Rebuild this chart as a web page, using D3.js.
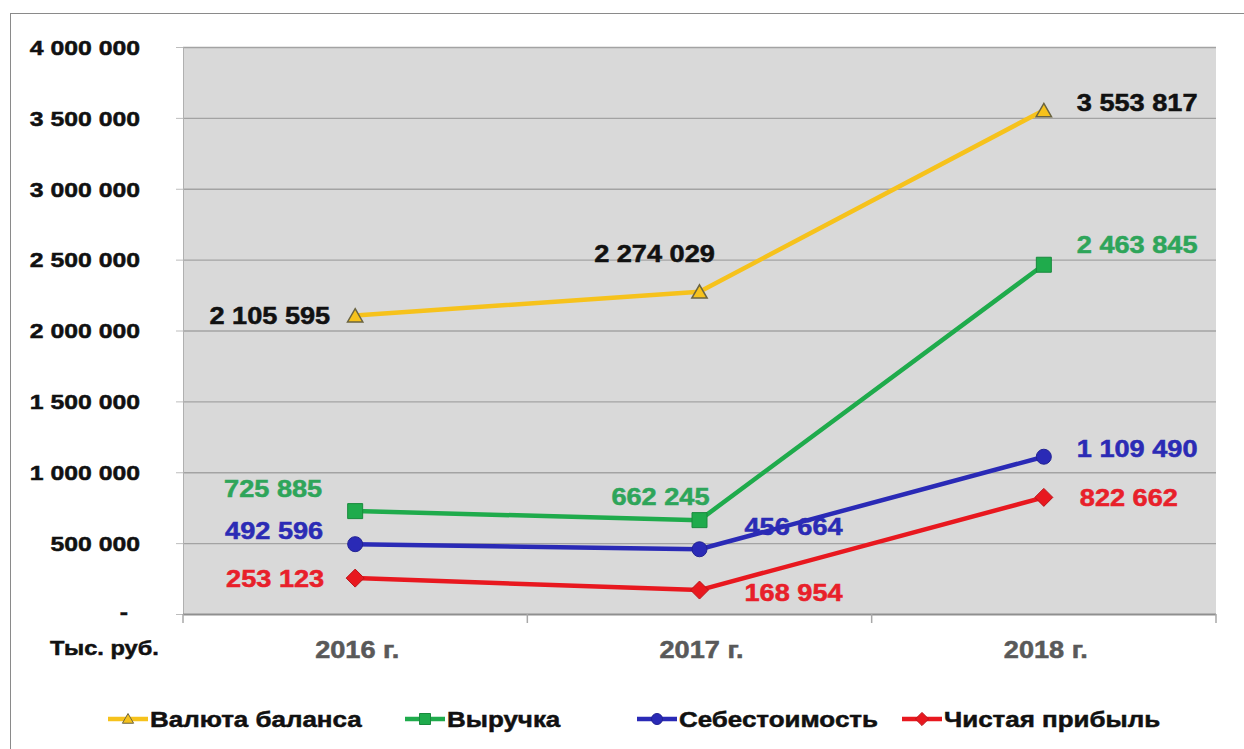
<!DOCTYPE html>
<meta charset="utf-8">
<style>
  body { margin: 0; background: #fff; }
  text { font-family: "Liberation Sans", Arial, sans-serif; font-weight: bold; stroke-width: 0.5px; }
</style>
<body></body>
<script src="https://d3js.org/d3.v7.min.js"></script>
<script>

const years = ["2016 г.", "2017 г.", "2018 г."];
const balance = [2105595, 2274029, 3553817];
const revenue = [725885, 662245, 2463845];
const cost = [492596, 456664, 1109490];
const profit = [253123, 168954, 822662];
const seriesNames = ["Валюта баланса", "Выручка", "Себестоимость", "Чистая прибыль"];
const yTicks = [0, 500000, 1000000, 1500000, 2000000, 2500000, 3000000, 3500000, 4000000];
const unitLabel = "Тыс. руб.";

const width = 1244, height = 749;
const SX = 1.18; // the picture's text is a bit wider than plain Arial

const plot = {left: 183, right: 1216, top: 47, bottom: 614};

// [colour, text colour, marker, label placement per year: anchor, dx, dy]
const styles = [
  {line: "#f6c21c", text: "#111", marker: "triangle",
   labels: [["end", -25, 0], ["middle", -45, -38], ["start", 33, -7]]},
  {line: "#1fab4c", text: "#2ea55a", marker: "square",
   labels: [["end", -33, -22], ["end", 10, -23], ["start", 33, -20]]},
  {line: "#2a2ab6", text: "#2b2bb5", marker: "circle",
   labels: [["end", -32, -13], ["start", 45, -22], ["start", 33, -8]]},
  {line: "#e8181f", text: "#e8202a", marker: "diamond",
   labels: [["end", -31, 1], ["start", 45, 3], ["start", 36, 0]]}
];
const seriesValues = [balance, revenue, cost, profit];

const fmt = v => v === 0 ? "-" : d3.format(",")(v).replace(/,/g, " ");

const x = d3.scalePoint().domain(years).range([plot.left, plot.right]).padding(0.5);
const y = d3.scaleLinear().domain([0, 4000000]).range([plot.bottom, plot.top]);

const svg = d3.select("body").append("svg")
    .attr("width", width)
    .attr("height", height);

// outer frame
svg.append("rect")
    .attr("x", 10.5).attr("y", 13.5)
    .attr("width", 1300).attr("height", 800)
    .attr("fill", "#fff")
    .attr("stroke", "#8a8a8a");

svg.append("rect")
    .attr("x", plot.left).attr("y", plot.top)
    .attr("width", plot.right - plot.left)
    .attr("height", plot.bottom - plot.top)
    .attr("fill", "#d9d9d9");

// gridlines
svg.append("g")
  .selectAll("line")
  .data(yTicks.filter(d => d > 0))
  .join("line")
    .attr("x1", plot.left).attr("x2", plot.right)
    .attr("y1", d => y(d) + 0.5).attr("y2", d => y(d) + 0.5)
    .attr("stroke", "#a3a3a3")
    .attr("stroke-width", 1.3);

// y axis
const yAxis = svg.append("g")
    .attr("transform", `translate(${plot.left},0)`)
    .call(d3.axisLeft(y).tickValues(yTicks).tickFormat(fmt).tickSize(7).tickPadding(0));
yAxis.select(".domain").attr("stroke", "#b0b0b0");
yAxis.selectAll(".tick line").attr("stroke", "#bdbdbd");
yAxis.selectAll(".tick text")
    .attr("x", null).attr("dy", null)
    .attr("font-size", 21)
    .attr("font-family", null)
    .attr("fill", "#111")
    .attr("stroke", "#111")
    .attr("dominant-baseline", "central")
    .attr("transform", d => `translate(${d === 0 ? -55 : -43},${d === 0 ? -3 : 0}) scale(${SX},1)`);

// x axis
const step = x.step();
svg.append("line")
    .attr("x1", plot.left).attr("x2", plot.right)
    .attr("y1", plot.bottom + 0.5).attr("y2", plot.bottom + 0.5)
    .attr("stroke", "#8f8f8f").attr("stroke-width", 2);
const bounds = [x(years[0]) - step / 2].concat(years.map(d => x(d) + step / 2));
svg.append("g")
  .selectAll("line")
  .data(bounds)
  .join("line")
    .attr("x1", d => d).attr("x2", d => d)
    .attr("y1", plot.bottom).attr("y2", plot.bottom + 9)
    .attr("stroke", "#a8a8a8").attr("stroke-width", 1.5);

svg.append("g")
  .selectAll("text")
  .data(years)
  .join("text")
    .attr("transform", d => `translate(${x(d) + 2},${650}) scale(${SX},1)`)
    .attr("text-anchor", "middle")
    .attr("dominant-baseline", "central")
    .attr("font-size", 23)
    .attr("fill", "#595959")
    .attr("stroke", "#595959")
    .text(d => d);

svg.append("text")
    .attr("transform", `translate(50,648) scale(${SX},1)`)
    .attr("dominant-baseline", "central")
    .attr("font-size", 20)
    .attr("fill", "#111")
    .attr("stroke", "#111")
    .text(unitLabel);

// markers
function markerPath(kind, s) {
  if (kind === "triangle") return d3.symbol(d3.symbolTriangle, s * s * 0.45)();
  if (kind === "square") return d3.symbol(d3.symbolSquare, s * s)();
  if (kind === "circle") return d3.symbol(d3.symbolCircle, Math.PI * s * s / 4)();
  const h = s * 0.6;
  return `M0,${-h}L${h},0L0,${h}L${-h},0Z`;
}
function markerStroke(kind, c) {
  if (kind === "triangle") return "#6b6440";
  return d3.color(c).darker(0.6);
}

const line = d3.line().x((d, i) => x(years[i])).y(d => y(d));

seriesValues.forEach((vals, si) => {
  const st = styles[si];
  const g = svg.append("g");
  g.append("path")
      .datum(vals)
      .attr("d", line)
      .attr("fill", "none")
      .attr("stroke", st.line)
      .attr("stroke-width", 4.5)
      .attr("stroke-linejoin", "round");
  g.selectAll("path.mk")
    .data(vals)
    .join("path")
      .attr("class", "mk")
      .attr("transform", (d, i) => `translate(${x(years[i])},${y(d) + (st.marker === "triangle" ? 2 : 0)})`)
      .attr("d", markerPath(st.marker, 15))
      .attr("fill", st.line)
      .attr("stroke", markerStroke(st.marker, st.line))
      .attr("stroke-width", st.marker === "triangle" ? 1.5 : 1);
  g.selectAll("text")
    .data(vals)
    .join("text")
      .attr("transform", (d, i) => {
        const [, dx, dy] = st.labels[i];
        return `translate(${x(years[i]) + dx},${y(d) + dy}) scale(${SX},1)`;
      })
      .attr("text-anchor", (d, i) => st.labels[i][0])
      .attr("dominant-baseline", "central")
      .attr("font-size", 23)
      .attr("fill", st.text)
      .attr("stroke", st.text)
      .text(fmt);
});

// legend
const legendX = [108, 405, 637, 902];
const legend = svg.append("g")
  .selectAll("g")
  .data(seriesNames)
  .join("g")
    .attr("transform", (d, i) => `translate(${legendX[i]},719)`);
legend.append("line")
    .attr("x1", 0).attr("x2", 40)
    .attr("stroke", (d, i) => styles[i].line)
    .attr("stroke-width", 4.5);
legend.append("path")
    .attr("transform", (d, i) => `translate(20,${styles[i].marker === "triangle" ? 1 : 0})`)
    .attr("d", (d, i) => markerPath(styles[i].marker, 11))
    .attr("fill", (d, i) => styles[i].line)
    .attr("stroke", (d, i) => markerStroke(styles[i].marker, styles[i].line));
legend.append("text")
    .attr("transform", `translate(42,0) scale(${SX},1)`)
    .attr("dominant-baseline", "central")
    .attr("font-size", 22)
    .attr("fill", "#111")
    .attr("stroke", "#111")
    .text(d => d);

</script>
